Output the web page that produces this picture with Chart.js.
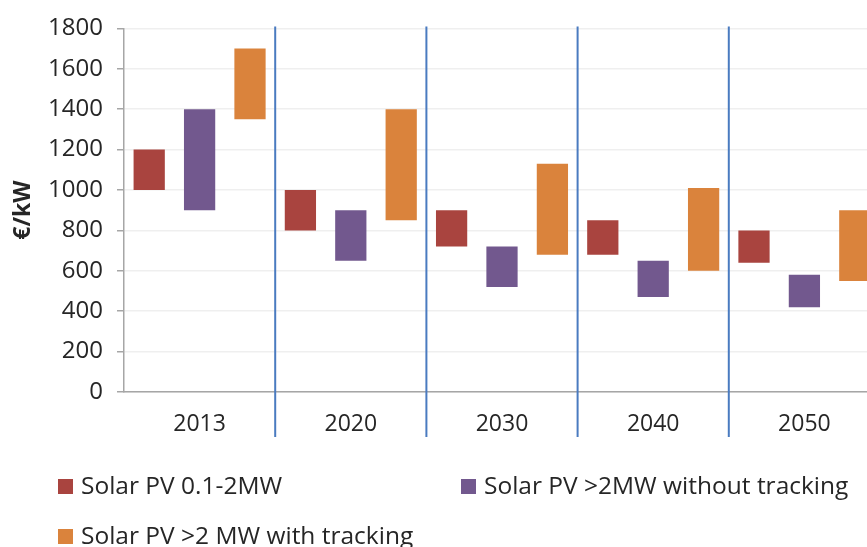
<!DOCTYPE html>
<html>
<head>
<meta charset="utf-8">
<script src="https://cdn.jsdelivr.net/npm/chart.js@4.4.1/dist/chart.umd.min.js"></script>
<style>
    html, body { margin: 0; padding: 0; background: #fff; overflow: hidden; }
    body { width: 867px; height: 547px; position: relative; font-family: "Open Sans", sans-serif; }
    #wrap { position: absolute; left: 0; top: 0; width: 885px; height: 450px; }
    #legend { position: absolute; left: 0; top: 0; width: 867px; height: 547px; pointer-events: none; }
    .item { position: absolute; font-size: 24.5px; color: #262626; white-space: nowrap; line-height: 28px; }
    .item span.box { display: inline-block; width: 15px; height: 15px; margin-right: 8px; vertical-align: 0px; }
</style>
</head>
<body>
<div id="wrap"><canvas id="bar_chart"></canvas></div>
<div id="legend"></div>
<script>
// years on the x axis
const anios = ['2013', '2020', '2030', '2040', '2050'];

// series names
const series = ['Solar PV 0.1-2MW', 'Solar PV >2MW without tracking', 'Solar PV >2 MW with tracking'];
const colores = ['#A9443F', '#72588E', '#DA833C'];

// cost ranges (€/kW), low and high end of each bar
const pv01Bajo = [1000, 800, 720, 680, 640];
const pv01Alto = [1200, 1000, 900, 850, 800];
const pvSinTrackBajo = [900, 650, 520, 470, 420];
const pvSinTrackAlto = [1400, 900, 720, 650, 580];
const pvTrackBajo = [1350, 850, 680, 600, 550];
const pvTrackAlto = [1700, 1400, 1130, 1010, 900];

const yTicks = [0, 200, 400, 600, 800, 1000, 1200, 1400, 1600, 1800];

function rango(bajo, alto) {
    return bajo.map((b, i) => [b, alto[i]]);
}

const separadores = {
    id: 'separadores',
    afterDraw(chart) {
        const ctx = chart.ctx;
        const x = chart.scales.x;
        const area = chart.chartArea;
        ctx.save();
        ctx.strokeStyle = '#4A7BC0';
        ctx.lineWidth = 2;
        for (let i = 1; i < anios.length; i++) {
            const px = (x.getPixelForValue(i - 1) + x.getPixelForValue(i)) / 2;
            ctx.beginPath();
            ctx.moveTo(px, area.top - 2);
            ctx.lineTo(px, area.bottom + 45);
            ctx.stroke();
        }
        ctx.restore();
    }
};

const datos = [rango(pv01Bajo, pv01Alto), rango(pvSinTrackBajo, pvSinTrackAlto), rango(pvTrackBajo, pvTrackAlto)];

new Chart(document.getElementById('bar_chart').getContext('2d'), {
    type: 'bar',
    data: {
        labels: anios,
        datasets: series.map((s, i) => ({
            label: s,
            data: datos[i],
            backgroundColor: colores[i],
            borderWidth: 0,
            barPercentage: 0.62,
            categoryPercentage: 1.0
        }))
    },
    options: {
        responsive: true,
        maintainAspectRatio: false,
        animation: false,
        layout: { padding: { top: 22, right: 5, left: 8, bottom: 0 } },
        plugins: {
            legend: { display: false },
            tooltip: { enabled: false }
        },
        scales: {
            x: {
                grid: { display: false, drawTicks: false },
                border: { color: '#A6A6A6', width: 1.5 },
                ticks: { color: '#262626', font: { family: 'Open Sans', size: 23 }, padding: 19 },
                afterFit: s => { s.height = 58; }
            },
            y: {
                min: 0,
                max: 1800,
                afterBuildTicks: s => { s.ticks = yTicks.map(v => ({ value: v })); },
                grid: { color: '#EFEFEF', tickColor: '#A6A6A6', tickLength: 7, lineWidth: 1.5 },
                border: { color: '#A6A6A6', width: 1.5 },
                ticks: {
                    color: '#262626',
                    font: { family: 'Open Sans', size: 24 },
                    padding: 14,
                    callback: v => String(v)
                },
                title: { display: true, text: '€/kW', color: '#262626', font: { family: 'Open Sans', size: 23, weight: 'bold' }, padding: 2 },
                afterFit: s => { s.width = 116; }
            }
        }
    },
    plugins: [separadores]
});

// legend as html, two columns like the original
const legendPos = [[58, 471], [461, 471], [58, 521]];
const legend = document.getElementById('legend');
series.forEach((s, i) => {
    const d = document.createElement('div');
    d.className = 'item';
    d.style.left = legendPos[i][0] + 'px';
    d.style.top = legendPos[i][1] + 'px';
    const b = document.createElement('span');
    b.className = 'box';
    b.style.background = colores[i];
    d.appendChild(b);
    d.appendChild(document.createTextNode(s));
    legend.appendChild(d);
});
</script>
</body>
</html>
